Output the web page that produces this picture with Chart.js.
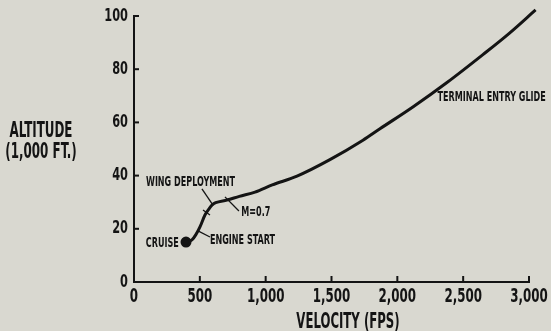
<!DOCTYPE html>
<html>
<head>
<meta charset="utf-8">
<script src="https://cdn.jsdelivr.net/npm/chart.js@4/dist/chart.umd.min.js"></script>
<style>
  html, body { margin: 0; padding: 0; background: #d9d8d0; }
  #wrap { width: 551px; height: 331px; }
</style>
</head>
<body>
<div id="wrap"><canvas id="c" width="551" height="331"></canvas></div>
<script>
// ---- data ----
const velocity = [395, 440, 470, 501, 539, 570, 592, 620, 706, 800, 919, 1050, 1238, 1488, 1739, 1868, 2118, 2377, 2650, 2850, 3050];
const altitude = [15.0, 15.8, 17.8, 20.7, 25.2, 27.5, 28.9, 29.8, 30.8, 32.2, 33.8, 36.5, 39.8, 46.0, 53.3, 57.6, 65.8, 75.0, 85.5, 93.5, 102.3];
const xTickValues = [0, 500, 1000, 1500, 2000, 2500, 3000];
const xTickLabels = ['0', '500', '1,000', '1,500', '2,000', '2,500', '3,000'];
const yTickValues = [0, 20, 40, 60, 80, 100];
const yTickLabels = ['0', '20', '40', '60', '80', '100'];
const yTitle = ['ALTITUDE', '(1,000 FT.)'];
const xTitle = 'VELOCITY (FPS)';
const labelTexts = ['CRUISE', 'ENGINE START', 'M=0.7', 'WING DEPLOYMENT', 'TERMINAL ENTRY GLIDE'];
const labelX = [340, 577, 815, 91, 2305];
const labelY = [14.7, 15.8, 26.3, 37.6, 69.5];
const labelAlign = ['right', 'left', 'left', 'left', 'left'];
// leader lines / tick marks on the curve: [x1, y1, x2, y2] in data units
const leaders = [
  [516, 35.0, 600, 28.9],
  [524, 27.1, 577, 25.2],
  [486, 19.2, 577, 16.9],
  [691, 32.0, 797, 26.7]
];

const INK = '#141414';
const FONT = '"DejaVu Sans Condensed", "DejaVu Sans", sans-serif';

const points = velocity.map((v, i) => ({ x: v, y: altitude[i] }));

// draw the scale's own label items, horizontally condensed
function makeNarrowDrawLabels(squeeze) {
  return function (chartArea) {
    const ctx = this.ctx;
    const items = this.getLabelItems(chartArea);
    for (const item of items) {
      const o = item.options;
      ctx.save();
      ctx.translate(o.translation[0], o.translation[1]);
      ctx.scale(squeeze, 1);
      ctx.font = item.font.string;
      ctx.fillStyle = o.color;
      ctx.textAlign = o.textAlign;
      ctx.textBaseline = o.textBaseline;
      ctx.fillText(item.label, 0, item.textOffset);
      ctx.restore();
    }
  };
}
const xDraw = makeNarrowDrawLabels(0.66);
const yDraw = makeNarrowDrawLabels(0.7);

const decor = {
  id: 'decor',
  afterDraw(chart) {
    const ctx = chart.ctx;
    const xs = chart.scales.x, ys = chart.scales.y;
    const area = chart.chartArea;
    ctx.save();
    ctx.strokeStyle = INK;
    ctx.fillStyle = INK;
    // inward tick marks
    ctx.lineWidth = 2;
    xTickValues.forEach(v => {
      if (v === 0) return;
      const px = xs.getPixelForValue(v);
      ctx.beginPath(); ctx.moveTo(px, area.bottom); ctx.lineTo(px, area.bottom - 6); ctx.stroke();
    });
    yTickValues.forEach(v => {
      if (v === 0) return;
      const py = ys.getPixelForValue(v);
      ctx.beginPath(); ctx.moveTo(area.left, py); ctx.lineTo(area.left + 5, py); ctx.stroke();
    });
    // leaders
    ctx.lineWidth = 1.3;
    leaders.forEach(l => {
      ctx.beginPath();
      ctx.moveTo(xs.getPixelForValue(l[0]), ys.getPixelForValue(l[1]));
      ctx.lineTo(xs.getPixelForValue(l[2]), ys.getPixelForValue(l[3]));
      ctx.stroke();
    });
    // annotation labels (condensed)
    ctx.font = 'bold 14px ' + FONT;
    ctx.textBaseline = 'middle';
    labelTexts.forEach((t, i) => {
      const px = xs.getPixelForValue(labelX[i]);
      const py = ys.getPixelForValue(labelY[i]);
      ctx.save();
      ctx.translate(px, py);
      ctx.scale(0.64, 1);
      ctx.textAlign = labelAlign[i];
      ctx.fillText(t, 0, 0);
      ctx.restore();
    });
    // axis titles
    ctx.font = 'bold 21px ' + FONT;
    ctx.textAlign = 'center';
    const ty = [132, 153];
    yTitle.forEach((t, i) => {
      ctx.save();
      ctx.translate(41, ty[i]);
      ctx.scale(0.63, 1);
      ctx.fillText(t, 0, 0);
      ctx.restore();
    });
    ctx.save();
    ctx.translate(348, 323);
    ctx.scale(0.62, 1);
    ctx.fillText(xTitle, 0, 0);
    ctx.restore();
    ctx.restore();
  }
};

new Chart(document.getElementById('c'), {
  type: 'line',
  data: {
    datasets: [{
      data: points,
      borderColor: INK,
      backgroundColor: INK,
      borderWidth: 3,
      pointRadius: ctx => ctx.dataIndex === 0 ? 4 : 0,
      pointHoverRadius: 0,
      cubicInterpolationMode: 'monotone',
      fill: false,
      clip: false
    }]
  },
  options: {
    responsive: false,
    animation: false,
    events: [],
    layout: { padding: { top: 16, right: 22, left: 0, bottom: 0 } },
    plugins: { legend: { display: false }, tooltip: { enabled: false } },
    scales: {
      x: {
        type: 'linear',
        min: 0, max: 3000,
        afterFit: s => { s.height = 49; s.paddingLeft = 0; s.paddingRight = 0; s.drawLabels = xDraw; },
        afterBuildTicks: s => { s.ticks = xTickValues.map(v => ({ value: v })); },
        ticks: {
          color: INK,
          padding: 3,
          maxRotation: 0,
          autoSkip: false,
          font: { family: FONT, size: 20, weight: 'bold' },
          callback: (v) => xTickLabels[xTickValues.indexOf(v)]
        },
        grid: { display: true, drawOnChartArea: false, drawTicks: false },
        border: { display: true, color: INK, width: 2 }
      },
      y: {
        type: 'linear',
        min: 0, max: 100,
        afterFit: s => { s.width = 134; s.paddingTop = 0; s.paddingBottom = 0; s.drawLabels = yDraw; },
        afterBuildTicks: s => { s.ticks = yTickValues.map(v => ({ value: v })); },
        ticks: {
          color: INK,
          padding: 6,
          autoSkip: false,
          font: { family: FONT, size: 18, weight: 'bold' },
          callback: (v) => yTickLabels[yTickValues.indexOf(v)]
        },
        grid: { display: true, drawOnChartArea: false, drawTicks: false },
        border: { display: true, color: INK, width: 2 }
      }
    }
  },
  plugins: [decor]
});
</script>
</body>
</html>
